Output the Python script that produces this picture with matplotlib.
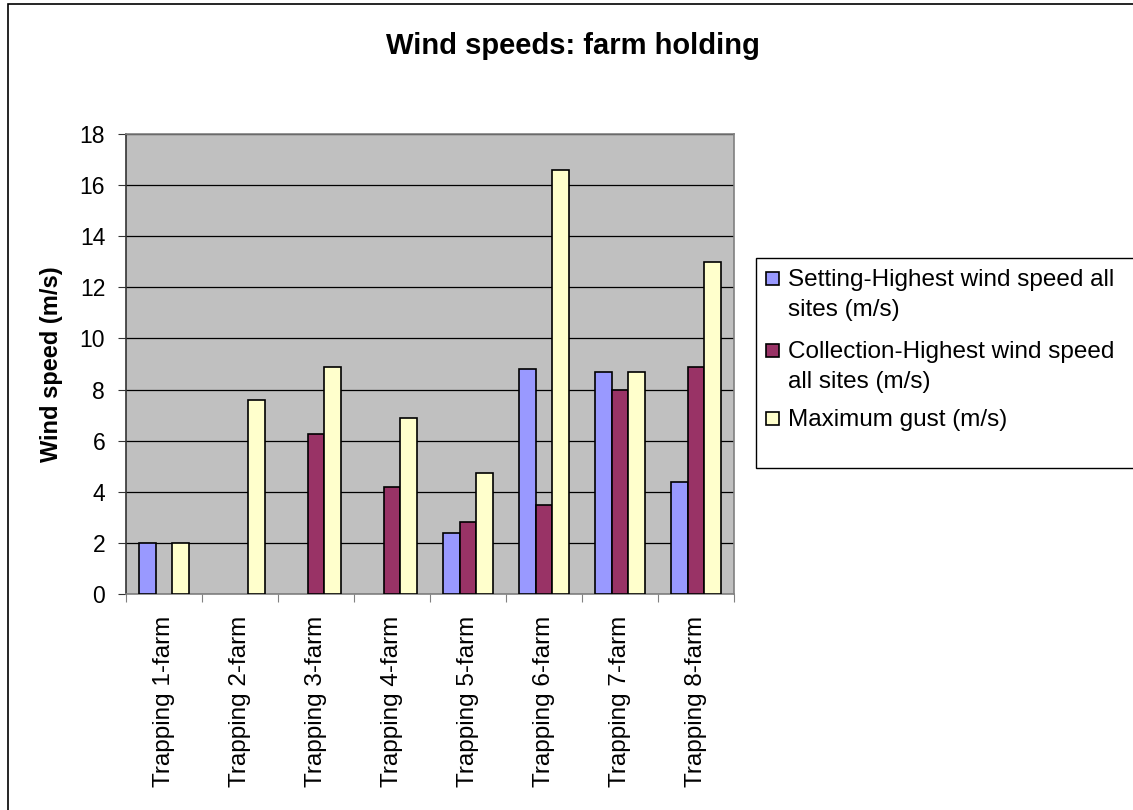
import numpy as np
import matplotlib
matplotlib.use("Agg")
import matplotlib.pyplot as plt
from matplotlib.patches import Rectangle

plt.rcParams['font.family'] = ['Liberation Sans', 'DejaVu Sans']

categories = ["Trapping 1-farm", "Trapping 2-farm", "Trapping 3-farm", "Trapping 4-farm",
              "Trapping 5-farm", "Trapping 6-farm", "Trapping 7-farm", "Trapping 8-farm"]
setting_speed = [2.0, np.nan, np.nan, np.nan, 2.4, 8.8, 8.7, 4.4]
collection_speed = [np.nan, np.nan, 6.25, 4.2, 2.8, 3.5, 8.0, 8.9]
max_gust = [2.0, 7.6, 8.9, 6.9, 4.75, 16.6, 8.7, 13.0]
series_names = ["Setting-Highest wind speed all\nsites (m/s)",
                "Collection-Highest wind speed\nall sites (m/s)",
                "Maximum gust (m/s)"]
colors = ["#9999FF", "#993366", "#FFFFCC"]
y_ticks = list(range(0, 19, 2))

W, H = 1133, 810
fig = plt.figure(figsize=(W / 100, H / 100), dpi=100)

def fx(px):
    return px / W

def fy(py):
    return 1 - py / H

# outer chart border
fig.patches.append(Rectangle((fx(8), fy(830)), fx(1140) - fx(8), fy(4) - fy(830),
                             transform=fig.transFigure, fill=False, edgecolor='black',
                             linewidth=1.2, clip_on=False))

ax = fig.add_axes([fx(126), fy(594), fx(734) - fx(126), fy(134) - fy(594)])
ax.set_facecolor("#C0C0C0")

x = np.arange(len(categories))
w = 0.221
for i, (vals, c) in enumerate(zip([setting_speed, collection_speed, max_gust], colors)):
    ax.bar(x + (i - 1) * w, vals, w, color=c, edgecolor='black', linewidth=1.2, zorder=3)

ax.set_xlim(-0.5, len(categories) - 0.5)
ax.set_ylim(0, 18)
ax.set_yticks(y_ticks)
ax.yaxis.grid(True, color='black', linewidth=0.9, zorder=1)
ax.set_axisbelow(True)

ax.set_xticks(np.arange(-0.5, len(categories), 1))
ax.set_xticklabels([])
ax.set_xticks(x, minor=True)
ax.set_xticklabels(categories, minor=True, rotation=90, fontsize=17.5, va='top', ha='center')
ax.tick_params(axis='x', which='major', length=6, direction='out', color='#808080')
ax.tick_params(axis='x', which='minor', length=0, pad=16)
ax.tick_params(axis='y', length=6, direction='out', pad=9, labelsize=16.5, color='#333333')

for side in ['top', 'right', 'bottom']:
    ax.spines[side].set_color('#808080')
    ax.spines[side].set_linewidth(1.2)
ax.spines['left'].set_color('#333333')
ax.spines['left'].set_linewidth(1.2)

ax.set_ylabel("Wind speed (m/s)", fontsize=17, fontweight='bold')
ax.yaxis.set_label_coords((52 - 126) / 608, 0.5)
ax.yaxis.label.set_va('center')

fig.text(fx(573), fy(46), "Wind speeds: farm holding", fontsize=21,
         fontweight='bold', ha='center', va='center')

# legend box
fig.patches.append(Rectangle((fx(756), fy(468)), fx(1145) - fx(756), fy(258) - fy(468),
                             transform=fig.transFigure, facecolor='white',
                             edgecolor='black', linewidth=1.0, clip_on=False))
entry_tops = [278, 350, 418]
for name, c, ty in zip(series_names, colors, entry_tops):
    fig.patches.append(Rectangle((fx(766), fy(ty + 7)), fx(779) - fx(766), fy(ty - 6) - fy(ty + 7),
                                 transform=fig.transFigure, facecolor=c,
                                 edgecolor='black', linewidth=1.2))
    fig.text(fx(788), fy(ty - 9), name, fontsize=17.5, ha='left', va='top',
             linespacing=1.45)

fig.savefig("out.png", dpi=100)
